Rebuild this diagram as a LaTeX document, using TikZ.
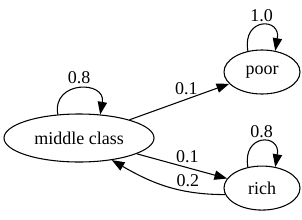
\documentclass[tikz,border=0pt]{standalone}
\usepackage{fontspec}
\setmainfont{Liberation Serif}
\usepackage{tikz}
\usetikzlibrary{positioning, arrows.meta, shapes.geometric}

\begin{document}
\begin{tikzpicture}[
    x=0.75pt, y=0.75pt,
    font=\fontsize{13.5}{16}\selectfont,
    state/.style = {ellipse, draw=black, line width=0.8pt, inner sep=0pt,
                    minimum width=57pt, minimum height=33pt},
    wide/.style  = {state, minimum width=112.5pt, minimum height=36pt},
    lbl/.style   = {inner sep=0.3333em},
    arr/.style   = {-{Triangle[length=9.5pt, width=7pt]}, line width=0.8pt, black}
]
\useasboundingbox (0,0) rectangle (302,219);

% States
\node[wide]  (middle) at (79,81) {middle class};
\node[state] (poor)   at (262,147) {poor};
\node[state, below=53.25pt of poor] (rich) {rich};

% Self loops
\draw[arr] (middle.132) to[out=100, in=80, looseness=2.1]
    node[lbl, above] {0.8} (middle.48);
\draw[arr] (poor.124) to[out=100, in=80, looseness=3.2]
    node[lbl, above=-1pt] {1.0} (poor.58);
\draw[arr] (rich.124) to[out=100, in=80, looseness=3.2]
    node[lbl, above=-1pt] {0.8} (rich.58);

% Transitions
\draw[arr] (middle) -- node[lbl, above, pos=0.57] {0.1} (poor);
\draw[arr] (middle) -- node[lbl, above, pos=0.56] {0.1} (rich);
\draw[arr] (rich.190) to[out=180, in=-30]
    node[lbl, above, pos=0.3] {0.2} (middle.-34);
\end{tikzpicture}
\end{document}
